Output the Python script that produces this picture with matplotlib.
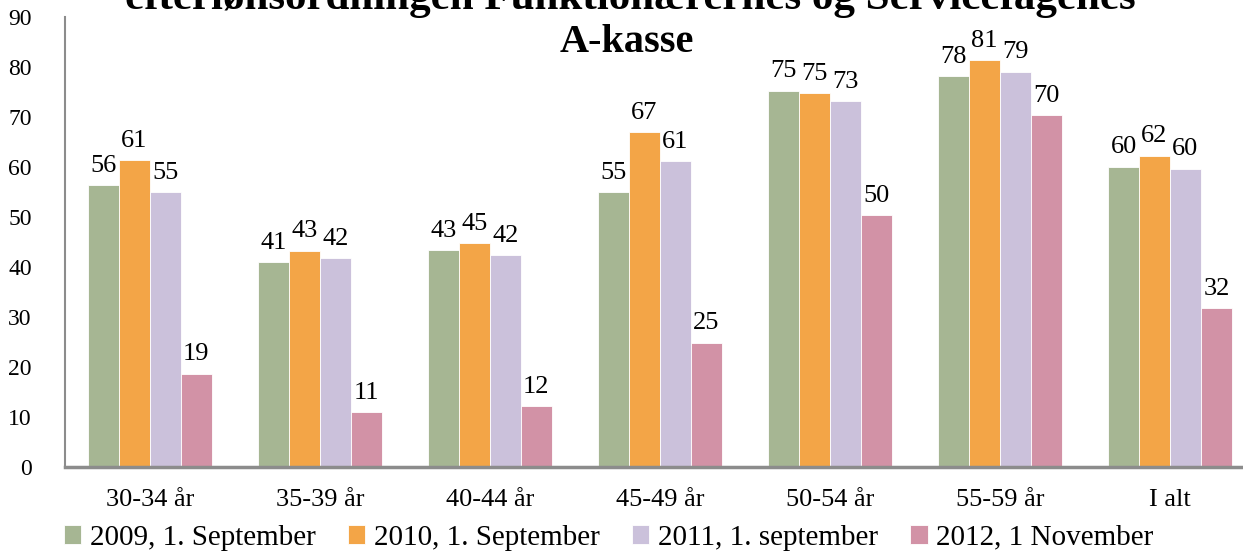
import matplotlib
matplotlib.use("Agg")
import matplotlib.pyplot as plt
import numpy as np

plt.rcParams['font.family'] = ['Liberation Serif', 'DejaVu Serif']

kategorier = ['30-34 år', '35-39 år', '40-44 år', '45-49 år', '50-54 år', '55-59 år', 'I alt']
serier = ['2009, 1. September', '2010, 1. September', '2011, 1. september', '2012, 1 November']
v2009 = [56.4, 41.0, 43.4, 55.0, 75.3, 78.2, 60.1]
v2010 = [61.4, 43.3, 44.8, 67.0, 74.8, 81.4, 62.3]
v2011 = [55.0, 41.8, 42.4, 61.2, 73.2, 79.1, 59.7]
v2012 = [18.7, 11.0, 12.2, 24.9, 50.4, 70.4, 31.8]
farver = ['#A6B693', '#F3A547', '#CBC1DB', '#D292A6']

fig = plt.figure(figsize=(12.43, 5.52), dpi=100)
ax = fig.add_axes([65 / 1243, 1 - 467 / 552, 1190 / 1243, 450 / 552])

x = np.arange(len(kategorier))
bredde = 0.182
for i, (vals, navn) in enumerate(zip([v2009, v2010, v2011, v2012], serier)):
    pos = x + (i - 1.5) * bredde
    bars = ax.bar(pos, vals, bredde, color=farver[i], label=navn,
                  edgecolor='white', linewidth=0.6)
    ax.bar_label(bars, fmt='%.0f', padding=6, fontsize=19)

ax.set_xlim(-0.5, 6.5)
ax.set_ylim(0, 90)
ax.set_yticks(range(0, 91, 10))
ax.set_xticks(x)
ax.set_xticklabels(kategorier, fontsize=19)
ax.tick_params(axis='y', length=0, pad=24, labelsize=17)
ax.tick_params(axis='x', length=0, pad=16)
for s in ['top', 'right']:
    ax.spines[s].set_visible(False)
ax.spines['left'].set_color('#8C8C8C')
ax.spines['left'].set_linewidth(1.5)
ax.spines['bottom'].set_color('#8C8C8C')
ax.spines['bottom'].set_linewidth(2.5)

# titel er beskaaret i toppen
fig.text(0.507, 1 - 9 / 552, 'efterlønsordningen Funktionærernes og Servicefagenes',
         ha='center', va='baseline', fontsize=31, fontweight='bold')
fig.text(0.504, 1 - 52 / 552, 'A-kasse', ha='center', va='baseline',
         fontsize=29, fontweight='bold')

fig.legend(loc='lower left', bbox_to_anchor=(0.03, -0.045), ncol=4, frameon=False,
           fontsize=21, handlelength=0.6, handleheight=0.6, handletextpad=0.3,
           columnspacing=1.1)

fig.savefig('out.png', dpi=100)
